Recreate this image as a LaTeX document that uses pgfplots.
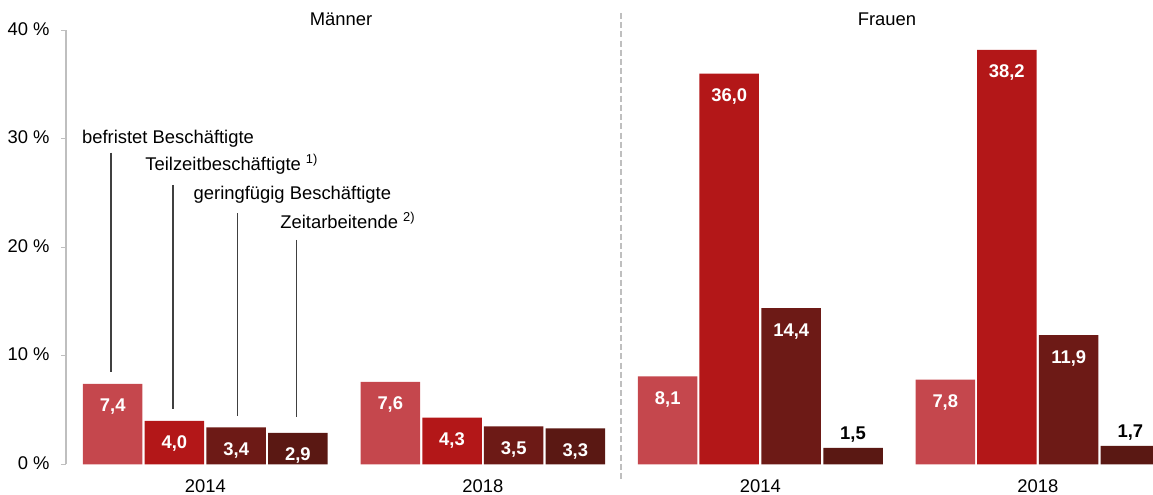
\documentclass[border=0pt]{standalone}
\usepackage{pgfplots}
\pgfplotsset{compat=1.18}
\usepackage{fontspec}
\setmainfont{Liberation Sans}
\definecolor{cA}{HTML}{C5474D}
\definecolor{cB}{HTML}{B31718}
\definecolor{cC}{HTML}{6D1A16}
\definecolor{cD}{HTML}{5A1813}
\definecolor{axgray}{HTML}{BFBFBF}
\definecolor{ann}{HTML}{404040}
\begin{document}
\begin{tikzpicture}[font=\fontsize{9.2pt}{11pt}\selectfont]
\pgfplotsset{
  barA/.style={ybar, bar width=59.5, bar shift=0pt, draw=none},
  lblin/.style={nodes near coords, nodes near coords style={anchor=base, yshift=-14pt, text=white, font=\fontsize{9.2pt}{11pt}\selectfont\bfseries}},
  lblout/.style={nodes near coords, nodes near coords style={anchor=base, yshift=4.3pt, text=black, font=\fontsize{9.2pt}{11pt}\selectfont\bfseries}},
}
\begin{axis}[
  scale only axis, width=549.5pt, height=217pt,
  xmin=66, xmax=1165, ymin=0, ymax=40,
  axis line style={draw=none},
  clip=false,
  ytick={0,10,20,30,40}, yticklabels={0 \%,10 \%,20 \%,30 \%,40 \%},
  ytick pos=left, tick align=outside, major tick length=2.5pt,
  ytick style={draw=axgray, line width=0.6pt},
  xtick={205.3,482.8,760.3,1037.8}, xticklabels={2014,2018,2014,2018},
  xtick style={draw=none},
  xticklabel style={anchor=base, yshift=-11.8pt, inner sep=0pt},
  yticklabel style={anchor=base east, inner sep=0pt, yshift=-2.5pt, xshift=-5.5pt},
  /pgf/number format/.cd, use comma, fixed, fixed zerofill, precision=1, assume math mode=true,
]
% y axis line
\draw[axgray, line width=0.6pt] (axis cs:66,0) -- (axis cs:66,40);
% divider
\draw[axgray, line width=0.8pt, dash pattern=on 3pt off 1.6pt] (axis cs:621,41.6) -- (axis cs:621,-1.45);
% series
\addplot[barA, fill=cA, lblin] coordinates {(112.7,7.4) (390.3,7.6) (667.7,8.1) (945.3,7.8)};
\addplot[barA, fill=cB, lblin] coordinates {(174.4,4.0) (452.0,4.3) (729.2,36.0) (1006.8,38.2)};
\addplot[barA, fill=cC, lblin] coordinates {(236.2,3.4) (513.7,3.5) (791.2,14.4) (1068.7,11.9)};
\addplot[barA, fill=cD, lblin] coordinates {(297.9,2.9) (575.3,3.3)};
\addplot[barA, fill=cD, lblout] coordinates {(853.0,1.5) (1130.4,1.7)};
% titles
\node[anchor=base] at (axis cs:341,40.4) {Männer};
\node[anchor=base] at (axis cs:887,40.4) {Frauen};
% annotations
\draw[ann, line width=0.6pt] (axis cs:111,28.73) -- (axis cs:111,8.48);
\draw[ann, line width=0.6pt] (axis cs:173,25.74) -- (axis cs:173,5.10);
\draw[ann, line width=0.6pt] (axis cs:237.7,23.13) -- (axis cs:237.7,4.48);
\draw[ann, line width=0.6pt] (axis cs:296.7,20.67) -- (axis cs:296.7,4.39);
\node[anchor=base west, inner sep=0pt] at (axis cs:81.7,29.58) {befristet Beschäftigte};
\node[anchor=base west, inner sep=0pt] at (axis cs:145,27.06) {Teilzeitbeschäftigte \textsuperscript{1)}};
\node[anchor=base west, inner sep=0pt] at (axis cs:193.3,24.42) {geringfügig Beschäftigte};
\node[anchor=base west, inner sep=0pt] at (axis cs:280,21.71) {Zeitarbeitende \textsuperscript{2)}};
\coordinate (bl) at (axis cs:0,-2.83);
\coordinate (tr) at (axis cs:1153,42.79);
\end{axis}
\pgfresetboundingbox
\path[use as bounding box] (bl) rectangle (tr);
\end{tikzpicture}
\end{document}
